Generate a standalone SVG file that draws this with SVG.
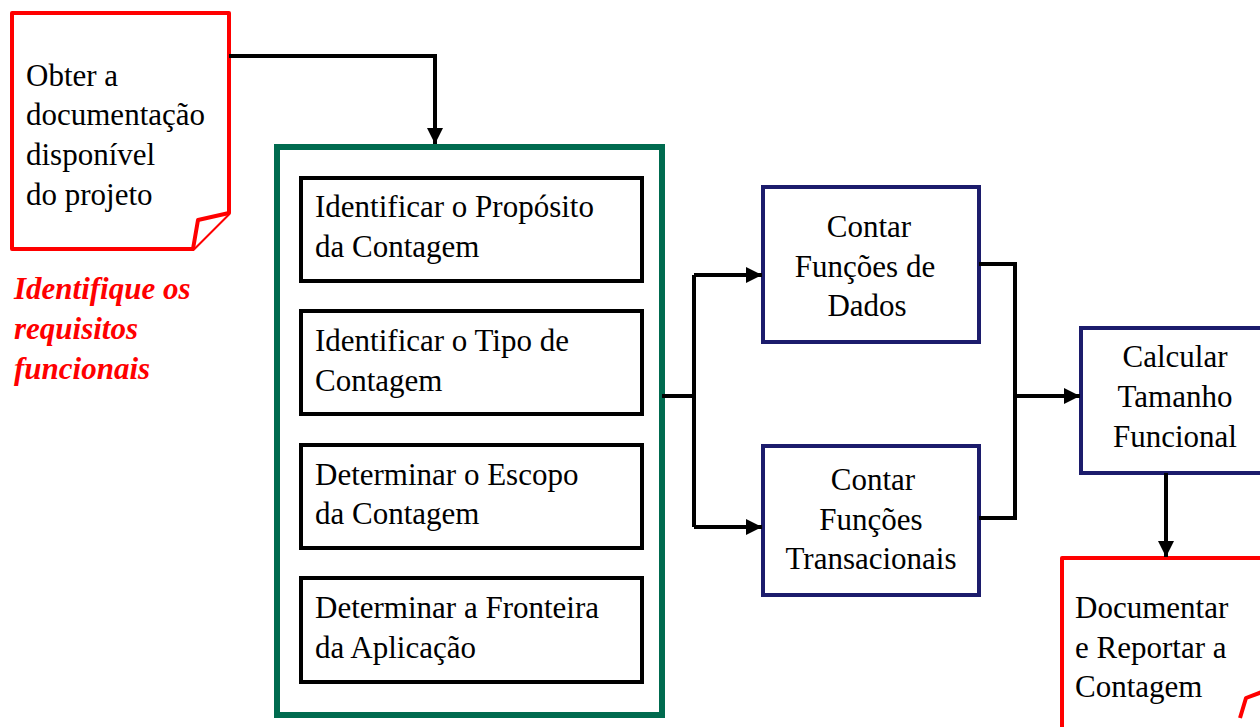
<svg xmlns="http://www.w3.org/2000/svg" width="1260" height="727" viewBox="0 0 1260 727">
<defs>
<style>
text{font-family:'Liberation Serif','Times New Roman',serif;font-size:31px}
.t{fill:#000}
.c{text-anchor:middle}
.red{fill:#fff;stroke:#ff0000;stroke-width:4;stroke-linejoin:round}
.blk{fill:#fff;stroke:#000;stroke-width:4}
.blu{fill:#fff;stroke:#1c1c6c;stroke-width:4}
.grn{fill:#fff;stroke:#006b4f;stroke-width:6}
.ln{fill:none;stroke:#000;stroke-width:4}
.note{font-weight:bold;font-style:italic;fill:#ff0000}
</style>
<marker id="ah" viewBox="0 0 10 10" refX="10" refY="5" markerWidth="4" markerHeight="4" orient="auto" markerUnits="strokeWidth">
<path d="M0,0 L10,5 L0,10 z" fill="#000"/>
</marker>
</defs>
<g id="doc1">
<path class="red" d="M12,13 H229 V213 L193,249 H12 Z"/>
<path class="red" d="M229,213 L198,220 L193,249"/>
<text class="t" x="26" y="86">Obter a</text>
<text class="t" x="26" y="125">documentação</text>
<text class="t" x="26" y="165">disponível</text>
<text class="t" x="26" y="205">do projeto</text>
</g>
<g id="note">
<text class="note" x="14" y="299">Identifique os</text>
<text class="note" x="14" y="339">requisitos</text>
<text class="note" x="14" y="379">funcionais</text>
</g>
<g id="container">
<rect class="grn" x="277" y="147" width="385" height="568"/>
</g>
<g id="step1">
<rect class="blk" x="301" y="178" width="341" height="103"/>
<text class="t" x="315" y="217">Identificar o Propósito</text>
<text class="t" x="315" y="257">da Contagem</text>
</g>
<g id="step2">
<rect class="blk" x="301" y="311" width="341" height="103"/>
<text class="t" x="315" y="351">Identificar o Tipo de</text>
<text class="t" x="315" y="391">Contagem</text>
</g>
<g id="step3">
<rect class="blk" x="301" y="445" width="341" height="103"/>
<text class="t" x="315" y="485">Determinar o Escopo</text>
<text class="t" x="315" y="524">da Contagem</text>
</g>
<g id="step4">
<rect class="blk" x="301" y="578" width="341" height="104"/>
<text class="t" x="315" y="618">Determinar a Fronteira</text>
<text class="t" x="315" y="658">da Aplicação</text>
</g>
<g id="dados">
<rect class="blu" x="763" y="187" width="216" height="155"/>
<text class="t c" x="869" y="237">Contar</text>
<text class="t c" x="865" y="277">Funções de</text>
<text class="t c" x="867" y="316">Dados</text>
</g>
<g id="trans">
<rect class="blu" x="763" y="446" width="216" height="149"/>
<text class="t c" x="873" y="490">Contar</text>
<text class="t c" x="871" y="530">Funções</text>
<text class="t c" x="871" y="569">Transacionais</text>
</g>
<g id="calc">
<rect class="blu" x="1081" y="328" width="185" height="145"/>
<text class="t c" x="1175" y="367">Calcular</text>
<text class="t c" x="1175" y="407">Tamanho</text>
<text class="t c" x="1175" y="447">Funcional</text>
</g>
<g id="doc2">
<path class="red" d="M1062,558 H1270 V740 H1062 Z"/>
<path class="red" d="M1262,692 L1246,698 L1240,718"/>
<text class="t" x="1075" y="618">Documentar</text>
<text class="t" x="1075" y="658">e Reportar a</text>
<text class="t" x="1075" y="697">Contagem</text>
</g>
<g id="connectors">
<path class="ln" d="M229,56 H435 V144" marker-end="url(#ah)"/>
<path class="ln" d="M662,396 H694"/>
<path class="ln" d="M694,275 V527"/>
<path class="ln" d="M694,275 H762" marker-end="url(#ah)"/>
<path class="ln" d="M694,527 H762" marker-end="url(#ah)"/>
<path class="ln" d="M979,264 H1015 V518 H979"/>
<path class="ln" d="M1015,396 H1080" marker-end="url(#ah)"/>
<path class="ln" d="M1166,473 V557" marker-end="url(#ah)"/>
</g>
</svg>
